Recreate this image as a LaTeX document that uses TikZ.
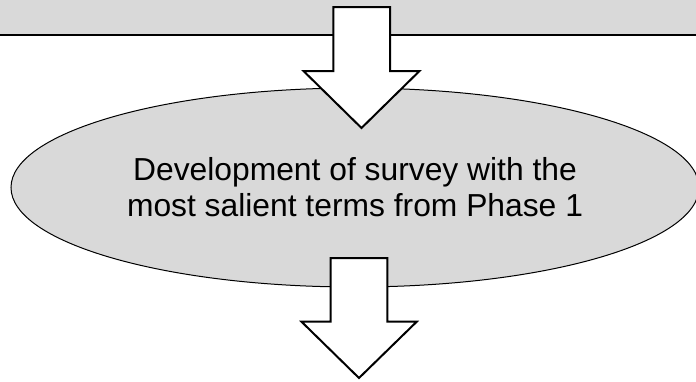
\documentclass[tikz,border=0pt]{standalone}
\usepackage{fontspec}
\setmainfont{Liberation Sans}
\usetikzlibrary{shapes.geometric}
\definecolor{panelgray}{HTML}{D9D9D9}
\begin{document}
\begin{tikzpicture}[x=1pt,y=-1pt,
  blockarrow/.style={draw=black,line width=2pt,fill=white,line join=miter},
  phase/.style={ellipse,draw=black,line width=1pt,fill=panelgray,
    minimum width=688pt,minimum height=199pt,inner sep=0pt,align=center,
    font=\fontsize{31.8}{36}\selectfont}]
\useasboundingbox (0,0) rectangle (696,381);
% top panel (partly outside the frame)
\fill[panelgray] (-3,-3) rectangle (699,35);
\coordinate (panelL) at (-3,35);
\coordinate (panelR) at (699,35);
\draw[line width=1.3pt] (panelL) -- (panelR);
% ellipse
\node[phase] (survey) at (355,187.5) {Development of survey with the\\most salient terms from Phase 1};
% block arrow 1
\draw[blockarrow] (333.3,7) -- (390,7) -- (390,71) -- (419.5,71) -- (361.5,128)
  -- (303.5,71) -- (333.3,71) -- cycle;
% block arrow 2
\draw[blockarrow] (330.7,258) -- (387.3,258) -- (387.3,321.7) -- (416.7,321.7)
  -- (359,378) -- (301.5,321.7) -- (330.7,321.7) -- cycle;
\end{tikzpicture}
\end{document}
